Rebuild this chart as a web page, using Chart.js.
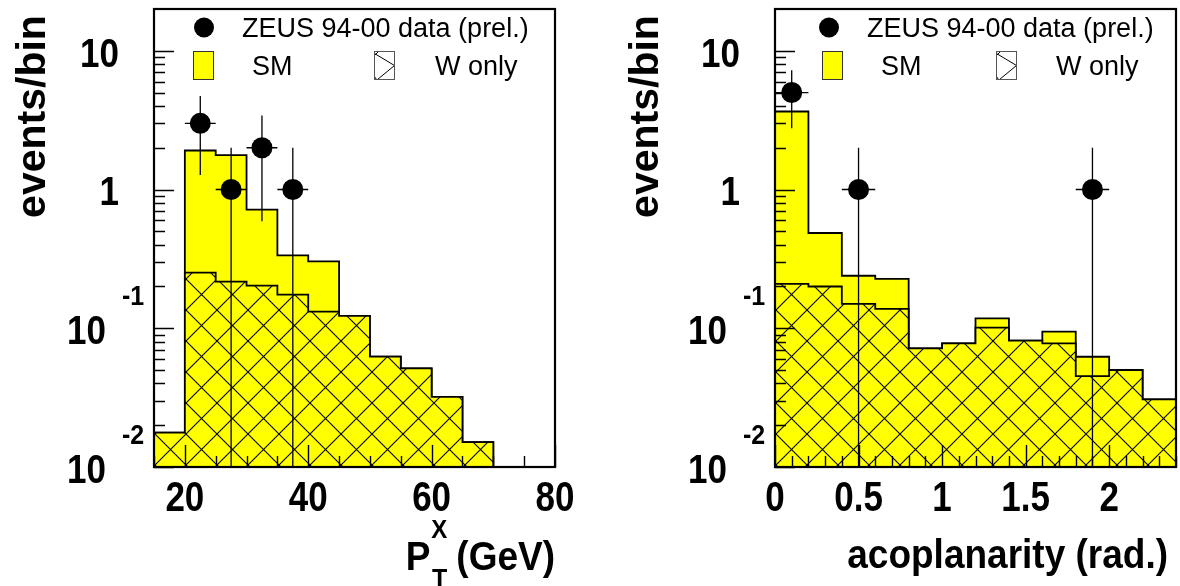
<!DOCTYPE html>
<html>
<head>
<meta charset="utf-8">
<script src="https://cdn.jsdelivr.net/npm/chart.js@4.4.1/dist/chart.umd.min.js"></script>
<style>
  html, body { margin: 0; padding: 0; background: #fff; overflow: hidden; }
  #wrap { position: relative; width: 1180px; height: 586px; }
  canvas { position: absolute; top: 0; }
  #ptChart { left: 0; }
  #acoChart { left: 590px; }
</style>
</head>
<body>
<div id="wrap">
  <canvas id="ptChart" width="590" height="586"></canvas>
  <canvas id="acoChart" width="590" height="586"></canvas>
</div>
<script>
// y range shared by both panels (events/bin, log)
const Y_MIN = 0.01;
const Y_MAX = 20;
const yTickValues = [10, 1, 0.1, 0.01];
const yTickBases = ['10', '1', '10', '10'];
const yTickExps = ['', '', '-1', '-2'];

// hadronic transverse momentum, 5 GeV bins
const ptEdges = [15, 20, 25, 30, 35, 40, 45, 50, 55, 60, 65, 70];
const ptSM = [0.0177, 1.91, 1.77, 0.717, 0.335, 0.303, 0.123, 0.0624, 0.0514, 0.032, 0.0151];
const ptW = [0.0177, 0.252, 0.217, 0.203, 0.175, 0.132, 0.123, 0.0624, 0.0514, 0.032, 0.0151];
const ptDataX = [22.5, 27.5, 32.5, 37.5];
const ptDataY = [3, 1, 2, 1];
const ptErrY = [1.73, 1, 1.41, 1];
const ptErrX = [2.5, 2.5, 2.5, 2.5];
const ptTicks = [20, 40, 60, 80];

// acoplanarity, 0.2 rad bins
const acoEdges = [0, 0.2, 0.4, 0.6, 0.8, 1.0, 1.2, 1.4, 1.6, 1.8, 2.0, 2.2, 2.4];
const acoSM = [3.65, 0.486, 0.239, 0.227, 0.0717, 0.0779, 0.118, 0.0814, 0.0945, 0.0623, 0.05, 0.0307];
const acoW = [0.209, 0.2, 0.15, 0.138, 0.0717, 0.0779, 0.101, 0.0814, 0.0779, 0.0452, 0.05, 0.0307];
const acoDataX = [0.1, 0.5, 1.9];
const acoDataY = [5, 1, 1];
const acoErrY = [2.24, 1, 1];
const acoErrX = [0.1, 0.1, 0.1];
const acoTicks = [0, 0.5, 1, 1.5, 2];

const FONT = '"Liberation Sans", Arial, Helvetica, sans-serif';
const YELLOW = '#ffff00';
const HATCH = 31;

// draw text with baseline at y, optional vertical stretch
function text(ctx, str, x, y, size, bold, align, sy) {
  ctx.save();
  ctx.translate(x, y);
  ctx.scale(1, sy || 1);
  ctx.font = (bold ? 'bold ' : '') + size + 'px ' + FONT;
  ctx.textAlign = align;
  ctx.textBaseline = 'alphabetic';
  ctx.fillStyle = '#000';
  ctx.fillText(str, 0, 0);
  ctx.restore();
}

// baseline that puts the caps centred on cy
function capBase(cy, size, sy) {
  return cy + 0.716 * size * (sy || 1) / 2;
}

function hatchTile(bg) {
  const c = document.createElement('canvas');
  c.width = c.height = HATCH;
  const g = c.getContext('2d');
  g.fillStyle = bg;
  g.fillRect(0, 0, HATCH, HATCH);
  g.strokeStyle = '#000';
  g.lineWidth = 1.1;
  g.beginPath();
  g.moveTo(-1, -1); g.lineTo(HATCH + 1, HATCH + 1);
  g.moveTo(HATCH + 1, -1); g.lineTo(-1, HATCH + 1);
  g.stroke();
  return c;
}

// histogram as a stepped line: one point per left bin edge, closed at the floor
function steps(edges, vals) {
  return edges.map((x, i) => ({ x: x, y: i < vals.length ? vals[i] : Y_MIN }));
}

function makeDecor(cfg) {
  return {
    id: 'panelDecor',
    afterDatasetsDraw(chart) {
      const { ctx, chartArea: a, scales: { x, y } } = chart;
      ctx.save();
      ctx.beginPath();
      ctx.rect(a.left, a.top, a.right - a.left, a.bottom - a.top);
      ctx.clip();
      ctx.strokeStyle = '#000';
      ctx.lineWidth = 1.3;
      cfg.dataX.forEach((px, i) => {
        const v = cfg.dataY[i];
        const lo = v - cfg.errY[i];
        const X = x.getPixelForValue(px);
        const Y = y.getPixelForValue(v);
        ctx.beginPath();
        ctx.moveTo(X, y.getPixelForValue(v + cfg.errY[i]));
        ctx.lineTo(X, lo > 0 ? y.getPixelForValue(lo) : a.bottom);
        ctx.moveTo(x.getPixelForValue(px - cfg.errX[i]), Y);
        ctx.lineTo(x.getPixelForValue(px + cfg.errX[i]), Y);
        ctx.stroke();
      });
      ctx.restore();
    },
    afterDraw(chart) {
      const { ctx, chartArea: a, scales: { x, y } } = chart;
      ctx.save();
      ctx.strokeStyle = '#000';
      ctx.lineWidth = 1.4;

      // y ticks, drawn inward from the left frame
      ctx.beginPath();
      for (let d = -2; d <= 1; d++) {
        for (let m = 1; m <= 9; m++) {
          const v = m * Math.pow(10, d);
          if (v < Y_MIN || v >= Y_MAX) continue;
          const py = Math.round(y.getPixelForValue(v)) + 0.5;
          ctx.moveTo(a.left, py);
          ctx.lineTo(a.left + (m === 1 ? 20 : 11), py);
        }
      }
      // x ticks, drawn upward from the bottom frame
      for (let v = x.min; v <= x.max + 1e-9; v += cfg.minorStep) {
        const major = cfg.ticks.some(t => Math.abs(t - v) < 1e-6);
        const px = Math.round(x.getPixelForValue(v)) + 0.5;
        ctx.moveTo(px, a.bottom);
        ctx.lineTo(px, a.bottom - (major ? 22 : 11));
      }
      ctx.stroke();

      // frame
      ctx.lineWidth = 2.2;
      ctx.strokeRect(a.left, a.top, a.right - a.left, a.bottom - a.top);

      // y tick labels
      yTickValues.forEach((v, i) => {
        const cy = y.getPixelForValue(v) + 1;
        if (yTickExps[i]) {
          text(ctx, yTickBases[i], a.left - 48, capBase(cy, 35, 1.18), 35, true, 'right', 1.18);
          text(ctx, yTickExps[i], a.left - 32, capBase(cy - 34, 25, 1.1), 25, true, 'left', 1.1);
        } else {
          text(ctx, yTickBases[i], a.left - 35, capBase(cy, 35, 1.18), 35, true, 'right', 1.18);
        }
      });

      // x tick labels
      cfg.ticks.forEach(t => {
        text(ctx, String(t), x.getPixelForValue(t), capBase(a.bottom + 29, 35, 1.22), 35, true, 'center', 1.22);
      });

      // y title
      ctx.save();
      ctx.translate(cfg.yTitleX, 116.5);
      ctx.rotate(-Math.PI / 2);
      ctx.font = 'bold 41px ' + FONT;
      ctx.textAlign = 'center';
      ctx.textBaseline = 'alphabetic';
      ctx.fillStyle = '#000';
      ctx.fillText('events/bin', 0, 0);
      ctx.restore();

      cfg.xTitle(ctx);

      // legend
      const L = a.left, g = cfg.legend;
      ctx.fillStyle = '#000';
      ctx.beginPath();
      ctx.arc(L + g.dot, 27.5, 10, 0, Math.PI * 2);
      ctx.fill();
      text(ctx, 'ZEUS 94-00 data (prel.)', L + g.label, capBase(27.5, 27), 27, false, 'left');

      ctx.lineWidth = 1;
      ctx.fillStyle = YELLOW;
      ctx.fillRect(L + g.smBox, 51, 20, 28);
      ctx.strokeStyle = '#333';
      ctx.strokeRect(L + g.smBox + 0.5, 51.5, 20, 28);
      text(ctx, 'SM', L + g.smText, capBase(65, 27), 27, false, 'left');

      // hatched key: one diamond of the pattern squeezed into the box
      const bx = L + g.wBox + 0.5, by = 51.5, bw = 20, bh = 28;
      ctx.strokeStyle = '#000';
      ctx.beginPath();
      ctx.moveTo(bx, by + 2); ctx.lineTo(bx + bw, by + bh / 2);
      ctx.lineTo(bx + 3, by + bh);
      ctx.moveTo(bx + 4, by); ctx.lineTo(bx, by + 4);
      ctx.moveTo(bx, by + bh - 3); ctx.lineTo(bx + 2, by + bh);
      ctx.stroke();
      ctx.strokeStyle = '#555';
      ctx.strokeRect(bx, by, bw, bh);
      text(ctx, 'W only', L + g.wText, capBase(65, 27), 27, false, 'left');

      ctx.restore();
    }
  };
}

function makePanel(id, p) {
  const canvas = document.getElementById(id);
  const ctx = canvas.getContext('2d');
  const hatchFill = ctx.createPattern(hatchTile(YELLOW), 'repeat');
  return new Chart(ctx, {
    type: 'line',
    data: {
      datasets: [
        {
          type: 'scatter',
          data: p.dataX.map((v, i) => ({ x: v, y: p.dataY[i] })),
          pointRadius: 10.5,
          pointBackgroundColor: '#000',
          pointBorderWidth: 0,
          showLine: false,
          order: 0
        },
        {
          data: steps(p.edges, p.w),
          stepped: true,
          fill: 'start',
          backgroundColor: hatchFill,
          borderColor: '#000',
          borderWidth: 1.8,
          pointRadius: 0,
          order: 1
        },
        {
          data: steps(p.edges, p.sm),
          stepped: true,
          fill: 'start',
          backgroundColor: YELLOW,
          borderColor: '#000',
          borderWidth: 1.8,
          pointRadius: 0,
          order: 2
        }
      ]
    },
    options: {
      responsive: false,
      animation: false,
      events: [],
      layout: { padding: p.padding, autoPadding: false },
      scales: {
        x: { type: 'linear', min: p.xMin, max: p.xMax, bounds: 'data', display: false },
        y: { type: 'logarithmic', min: Y_MIN, max: Y_MAX, bounds: 'data', display: false }
      },
      plugins: { legend: { display: false }, tooltip: { enabled: false } }
    },
    plugins: [makeDecor(p)]
  });
}

makePanel('ptChart', {
  edges: ptEdges, sm: ptSM, w: ptW,
  dataX: ptDataX, dataY: ptDataY, errY: ptErrY, errX: ptErrX,
  ticks: ptTicks, minorStep: 5, xMin: 15, xMax: 80,
  padding: { left: 154, right: 35, top: 9, bottom: 119 },
  yTitleX: 45,
  legend: { dot: 50, label: 88, smBox: 39, smText: 98, wBox: 220, wText: 281 },
  xTitle(ctx) {
    const right = 555, base = 570;
    ctx.font = 'bold 37px ' + FONT;
    const wG = ctx.measureText('(GeV)').width;
    text(ctx, '(GeV)', right, base, 37, true, 'right', 1.12);
    const sx = right - wG - 9;
    text(ctx, 'X', sx, 538, 24, true, 'right', 1.1);
    text(ctx, 'T', sx, 588, 25, true, 'right', 1.1);
    text(ctx, 'P', sx - 17, base, 37, true, 'right', 1.12);
  }
});

makePanel('acoChart', {
  edges: acoEdges, sm: acoSM, w: acoW,
  dataX: acoDataX, dataY: acoDataY, errY: acoErrY, errX: acoErrX,
  ticks: acoTicks, minorStep: 0.1, xMin: 0, xMax: 2.4,
  padding: { left: 185, right: 4, top: 9, bottom: 119 },
  yTitleX: 68,
  legend: { dot: 54, label: 92, smBox: 47, smText: 106, wBox: 221, wText: 281 },
  xTitle(ctx) {
    text(ctx, 'acoplanarity (rad.)', 578, 568, 37, true, 'right', 1.12);
  }
});
</script>
</body>
</html>
